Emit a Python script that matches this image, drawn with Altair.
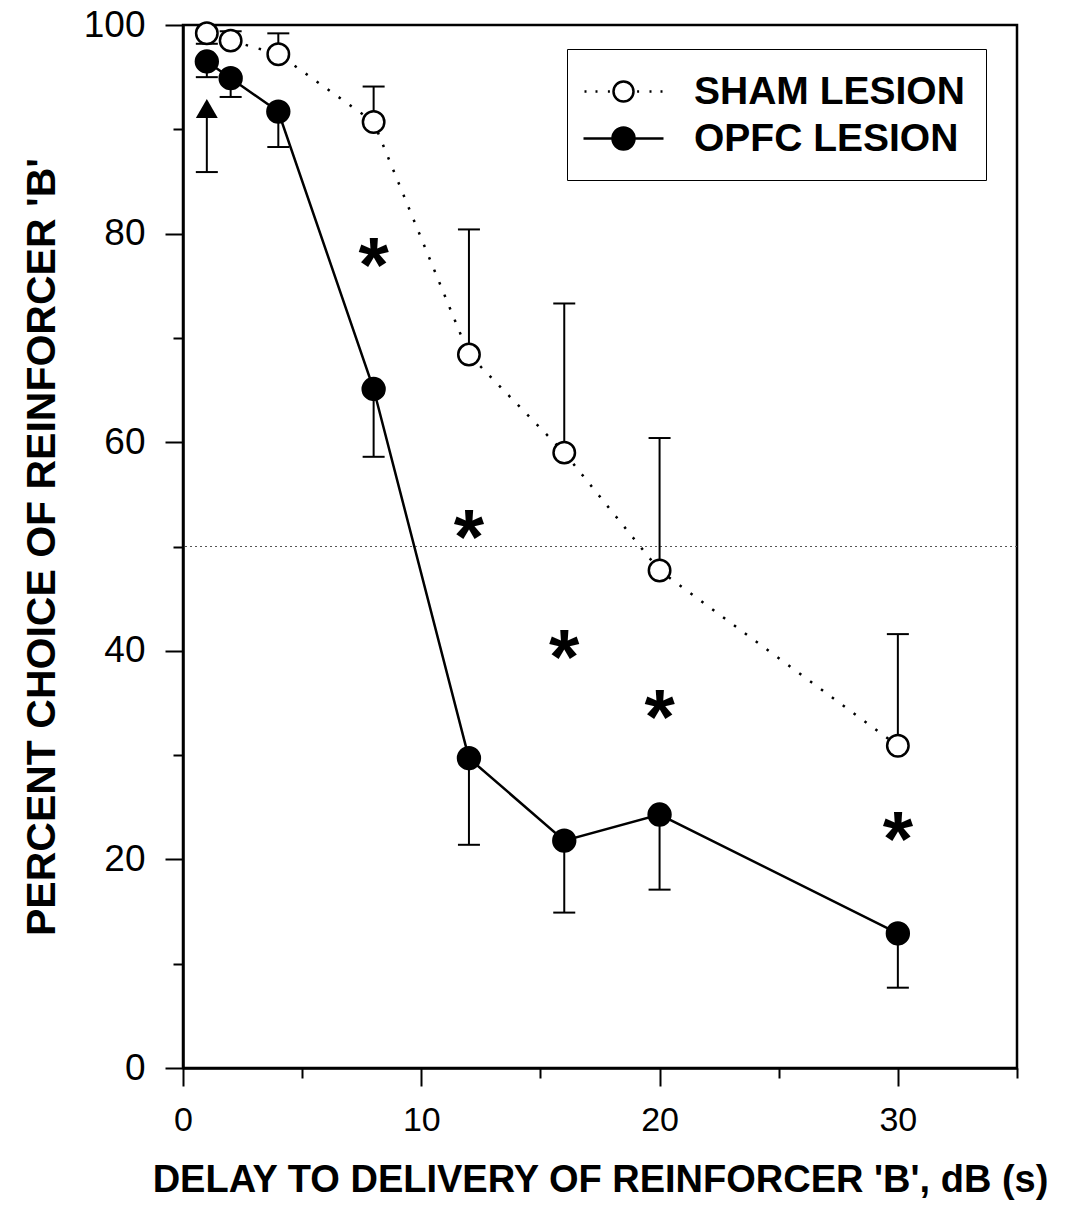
import altair as alt
import pandas as pd

# ---- data ----
delays = [1, 2, 4, 8, 12, 16, 20, 30]
sham_mean = [99.2, 98.5, 97.2, 90.7, 68.4, 59.0, 47.7, 30.9]
sham_err = [98.2, 99.4, 99.2, 94.1, 80.4, 73.3, 60.4, 41.6]
opfc_mean = [96.5, 94.9, 91.7, 65.1, 29.7, 21.8, 24.3, 12.9]
opfc_err = [95.0, 93.1, 88.3, 58.6, 21.4, 14.9, 17.1, 7.7]

arrow_x = [1]
arrow_low = [85.9]
arrow_tip = [92.0]

star_x = [8, 12, 16, 20, 30]
star_y = [78.6, 52.5, 41.0, 35.3, 23.6]
star_txt = ["*"] * 5

chance = [50]
x_major = [0, 10, 20, 30]
x_minor = [5, 15, 25, 35]
y_major = [0, 20, 40, 60, 80, 100]
y_minor = [10, 30, 50, 70, 90]
groups = ["SHAM LESION", "OPFC LESION"]

sham = pd.DataFrame({"delay": delays, "pct": sham_mean, "err": sham_err})
opfc = pd.DataFrame({"delay": delays, "pct": opfc_mean, "err": opfc_err})
both = pd.concat([sham, opfc])
arrow = pd.DataFrame({"delay": arrow_x, "low": arrow_low, "tip": arrow_tip})
stars = pd.DataFrame({"delay": star_x, "pct": star_y, "t": star_txt})
hline = pd.DataFrame({"y": chance})
leg = pd.DataFrame({"group": groups})

SANS = "Liberation Sans"

xs = alt.Scale(domain=[0, 35], nice=False, zero=False)
ys = alt.Scale(domain=[0, 100], nice=False, zero=False)

x_major_axis = alt.Axis(
    orient="bottom", values=x_major, tickSize=18, tickWidth=2, tickColor="black",
    domain=True, domainColor="black", domainWidth=2.5, grid=False,
    labelFont=SANS, labelFontSize=34, labelColor="black", labelPadding=17,
    labelFlush=False, labelOverlap=False, format="d",
    title="DELAY TO DELIVERY OF REINFORCER 'B', dB (s)",
    titleFont=SANS, titleFontSize=38, titleFontWeight="bold", titleColor="black",
    titlePadding=24,
)
x_minor_axis = alt.Axis(
    orient="bottom", values=x_minor, tickSize=10, tickWidth=2, tickColor="black",
    domain=False, grid=False, labels=False, title=None,
)
y_major_axis = alt.Axis(
    orient="left", values=y_major, tickSize=18, tickWidth=2, tickColor="black",
    domain=True, domainColor="black", domainWidth=2.5, grid=False,
    labelFont=SANS, labelFontSize=37, labelColor="black", labelPadding=20,
    labelOverlap=False, format="d",
    title="PERCENT CHOICE OF REINFORCER 'B'",
    titleFont=SANS, titleFontSize=41, titleFontWeight="bold", titleColor="black",
    titlePadding=20,
)
y_minor_axis = alt.Axis(
    orient="left", values=y_minor, tickSize=10, tickWidth=2, tickColor="black",
    domain=False, grid=False, labels=False, title=None,
)

ref = alt.Chart(hline).mark_rule(color="#555555", strokeWidth=1.2, strokeDash=[2, 3]).encode(
    y=alt.Y("y:Q", scale=ys, axis=None)
)

err_rules = alt.Chart(both).mark_rule(color="black", strokeWidth=2).encode(
    x=alt.X("delay:Q", scale=xs, axis=x_minor_axis),
    y=alt.Y("pct:Q", scale=ys, axis=y_minor_axis),
    y2="err:Q",
)
err_caps = alt.Chart(both).mark_tick(color="black", orient="horizontal", size=22, thickness=2, opacity=1).encode(
    x=alt.X("delay:Q", scale=xs, axis=None),
    y=alt.Y("err:Q", scale=ys, axis=None),
)

sham_line = alt.Chart(sham).mark_line(color="black", strokeWidth=2.5, strokeDash=[2.5, 11]).encode(
    x=alt.X("delay:Q", scale=xs, axis=None),
    y=alt.Y("pct:Q", scale=ys, axis=None),
)
opfc_line = alt.Chart(opfc).mark_line(color="black", strokeWidth=2.5).encode(
    x=alt.X("delay:Q", scale=xs, axis=None),
    y=alt.Y("pct:Q", scale=ys, axis=None),
)

arrow_rule = alt.Chart(arrow).mark_rule(color="black", strokeWidth=2).encode(
    x=alt.X("delay:Q", scale=xs, axis=None),
    y=alt.Y("low:Q", scale=ys, axis=None),
    y2="tip:Q",
)
arrow_cap = alt.Chart(arrow).mark_tick(color="black", orient="horizontal", size=22, thickness=2, opacity=1).encode(
    x=alt.X("delay:Q", scale=xs, axis=None),
    y=alt.Y("low:Q", scale=ys, axis=None),
)
arrow_head = alt.Chart(arrow).mark_point(shape="triangle-up", filled=True, color="black", size=480, opacity=1).encode(
    x=alt.X("delay:Q", scale=xs, axis=None),
    y=alt.Y("tip:Q", scale=ys, axis=None),
)

opfc_pts = alt.Chart(opfc).mark_point(
    shape="circle", filled=True, fill="black", stroke="black", strokeWidth=2, size=500, opacity=1
).encode(
    x=alt.X("delay:Q", scale=xs, axis=x_major_axis),
    y=alt.Y("pct:Q", scale=ys, axis=y_major_axis),
)
sham_pts = alt.Chart(sham).mark_point(
    shape="circle", filled=True, fill="white", stroke="black", strokeWidth=2.5, size=460, opacity=1
).encode(
    x=alt.X("delay:Q", scale=xs, axis=None),
    y=alt.Y("pct:Q", scale=ys, axis=None),
)

star_marks = alt.Chart(stars).mark_text(
    font=SANS, fontSize=78, fontWeight="bold", color="black", baseline="alphabetic", dy=44
).encode(
    x=alt.X("delay:Q", scale=xs, axis=None),
    y=alt.Y("pct:Q", scale=ys, axis=None),
    text="t:N",
)

sham_sym = ("M-1.95,0L-1.85,0M-1.4,0L-1.3,0M-0.78,0L-0.68,0M0.68,0L0.78,0"
            "M1.3,0L1.4,0M1.85,0L1.95,0"
            "M-0.5,0A0.5,0.5 0 1,1 0.5,0A0.5,0.5 0 1,1 -0.5,0Z")
opfc_sym = ("M-2,0L-0.55,0M0.55,0L2,0"
            "M-0.55,0A0.55,0.55 0 1,1 0.55,0A0.55,0.55 0 1,1 -0.55,0Z")

legend_layer = alt.Chart(leg).transform_filter("false").mark_point(
    filled=True, stroke="black", strokeWidth=2.5, opacity=1, size=1600
).encode(
    fill=alt.Fill(
        "group:N",
        scale=alt.Scale(domain=groups, range=["white", "black"]),
        legend=alt.Legend(
            title=None, orient="none", legendX=384, legendY=24,
            padding=21, symbolOffset=14, labelOffset=49, rowPadding=5,
            symbolSize=1600, symbolStrokeWidth=2.5, symbolStrokeColor="black",
            labelFont=SANS, labelFontSize=39, labelFontWeight="bold", labelColor="black",
            strokeColor="black", fillColor="white", labelLimit=600,
        ),
    ),
    shape=alt.Shape(
        "group:N",
        scale=alt.Scale(domain=groups, range=[sham_sym, opfc_sym]),
    ),
)

chart = alt.layer(
    ref, err_rules, err_caps, arrow_rule, arrow_cap, arrow_head,
    sham_line, opfc_line, opfc_pts, sham_pts, star_marks, legend_layer,
).resolve_axis(
    x="independent", y="independent"
).properties(
    width=834, height=1043,
    autosize=alt.AutoSizeParams(type="none"),
    padding={"left": 175, "top": 17, "right": 40, "bottom": 134},
    background="white",
).configure_view(
    stroke="black", strokeWidth=2.5
)

chart.save("out.html", embed_options={"renderer": "svg", "actions": False})
